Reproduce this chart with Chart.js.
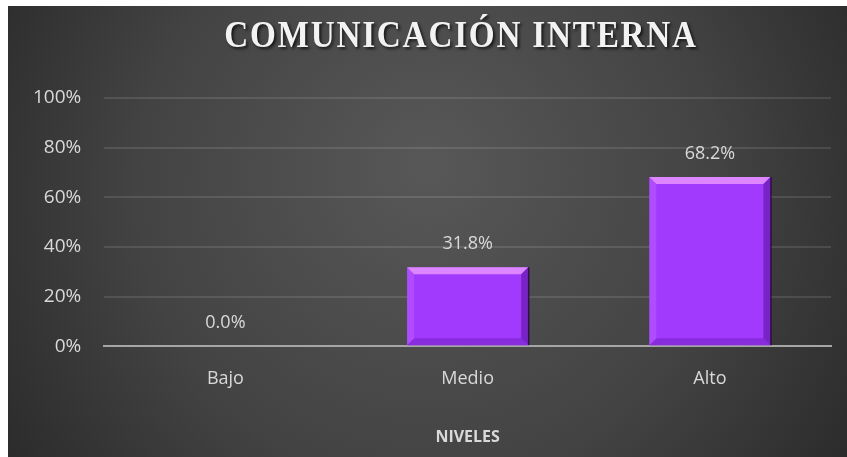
<!DOCTYPE html>
<html>
<head>
<meta charset="utf-8">
<script src="https://cdn.jsdelivr.net/npm/chart.js@4/dist/chart.umd.min.js"></script>
<style>
  html, body { margin: 0; padding: 0; background: #fff; }
  #wrap { position: absolute; left: 8px; top: 6px; width: 839px; height: 451px; }
</style>
</head>
<body>
<div id="wrap"><canvas id="chart"></canvas></div>
<script>
const chartTitle = "COMUNICACIÓN INTERNA"
const categories = ["Bajo", "Medio", "Alto"]
const percentages = [0.0, 31.8, 68.2]
const yTicks = [0, 20, 40, 60, 80, 100]
const xTitle = "NIVELES"

const ctx = document.getElementById("chart").getContext("2d")

// dark radial background
const backgroundPlugin = {
  id: "bg",
  beforeDraw(chart) {
    const c = chart.ctx
    const w = chart.width, h = chart.height
    const g = c.createRadialGradient(w * 0.5, h * 0.35, 10, w * 0.5, h * 0.45, w * 0.62)
    g.addColorStop(0, "#575757")
    g.addColorStop(0.55, "#434343")
    g.addColorStop(1, "#282828")
    c.save()
    c.fillStyle = g
    c.fillRect(0, 0, w, h)
    c.restore()
  }
}

// title: tall, slightly condensed serif with shadow
const titlePlugin = {
  id: "bigTitle",
  afterDraw(chart) {
    const c = chart.ctx
    c.save()
    c.translate(453, 31)
    c.scale(0.875, 1)
    c.font = "bold 38px 'Liberation Serif', 'DejaVu Serif', serif"
    if ("letterSpacing" in c) c.letterSpacing = "2px"
    c.textAlign = "center"
    c.textBaseline = "middle"
    c.shadowColor = "rgba(0,0,0,0.7)"
    c.shadowOffsetX = 2
    c.shadowOffsetY = 2
    c.shadowBlur = 3
    c.fillStyle = "#f2f2f2"
    c.fillText(chartTitle, 0, 0)
    c.restore()
  }
}

// bevel highlights on bars + value labels
const barLabelPlugin = {
  id: "barLabels",
  afterDatasetsDraw(chart) {
    const c = chart.ctx
    const meta = chart.getDatasetMeta(0)
    c.save()
    meta.data.forEach((bar, i) => {
      const left = bar.x - bar.width / 2
      const right = bar.x + bar.width / 2
      const top = bar.y
      const bottom = bar.base
      if (bottom - top > 8) {
        const b = 7
        c.fillStyle = "rgba(240,160,255,0.75)"
        c.beginPath()
        c.moveTo(left, top); c.lineTo(right, top); c.lineTo(right - b, top + b); c.lineTo(left + b, top + b)
        c.closePath(); c.fill()
        c.fillStyle = "rgba(90,20,160,0.6)"
        c.beginPath()
        c.moveTo(right, top); c.lineTo(right, bottom); c.lineTo(right - b, bottom - b); c.lineTo(right - b, top + b)
        c.closePath(); c.fill()
        c.fillStyle = "rgba(110,30,190,0.5)"
        c.beginPath()
        c.moveTo(left, bottom); c.lineTo(right, bottom); c.lineTo(right - b, bottom - b); c.lineTo(left + b, bottom - b)
        c.closePath(); c.fill()
        c.fillStyle = "rgba(190,100,255,0.45)"
        c.beginPath()
        c.moveTo(left, top); c.lineTo(left + b, top + b); c.lineTo(left + b, bottom - b); c.lineTo(left, bottom)
        c.closePath(); c.fill()
        c.strokeStyle = "rgba(40,0,70,0.8)"
        c.lineWidth = 1.5
        c.beginPath()
        c.moveTo(right + 0.5, top); c.lineTo(right + 0.5, bottom)
        c.stroke()
      }
      c.font = "18px 'Open Sans', 'Noto Sans', sans-serif"
      c.fillStyle = "#d9d9d9"
      c.textAlign = "center"
      c.textBaseline = "bottom"
      c.fillText(percentages[i].toFixed(1) + "%", bar.x, bar.y - 14)
    })
    c.restore()
  }
}

new Chart(ctx, {
  type: "bar",
  data: {
    labels: categories,
    datasets: [
      {
        data: percentages,
        backgroundColor: "#a23afd",
        borderWidth: 0,
        categoryPercentage: 1,
        barPercentage: 0.5,
      },
    ],
  },
  options: {
    responsive: true,
    maintainAspectRatio: false,
    animation: false,
    layout: {
      padding: { top: 92, right: 16, left: 2, bottom: 10 },
    },
    plugins: {
      legend: { display: false },
      title: { display: false },
      tooltip: { enabled: false },
    },
    scales: {
      x: {
        grid: { display: false },
        border: { color: "#a6a6a6", width: 2 },
        ticks: {
          color: "#d9d9d9",
          padding: 14,
          font: { family: "'Open Sans', 'Noto Sans', sans-serif", size: 18 },
        },
        title: {
          display: true,
          text: xTitle,
          color: "#d9d9d9",
          padding: { top: 24, bottom: 0 },
          font: { family: "'Open Sans', 'Noto Sans', sans-serif", size: 16, weight: "bold" },
        },
      },
      y: {
        min: 0,
        max: 100,
        afterBuildTicks(axis) {
          axis.ticks = yTicks.map((v) => ({ value: v }))
        },
        grid: {
          color: "rgba(255,255,255,0.11)",
          lineWidth: 2,
          drawTicks: false,
        },
        border: { display: false },
        ticks: {
          color: "#d9d9d9",
          padding: 23,
          font: { family: "'Open Sans', 'Noto Sans', sans-serif", size: 19 },
          callback: (v) => v + "%",
        },
      },
    },
  },
  plugins: [backgroundPlugin, barLabelPlugin, titlePlugin],
})
</script>
</body>
</html>
